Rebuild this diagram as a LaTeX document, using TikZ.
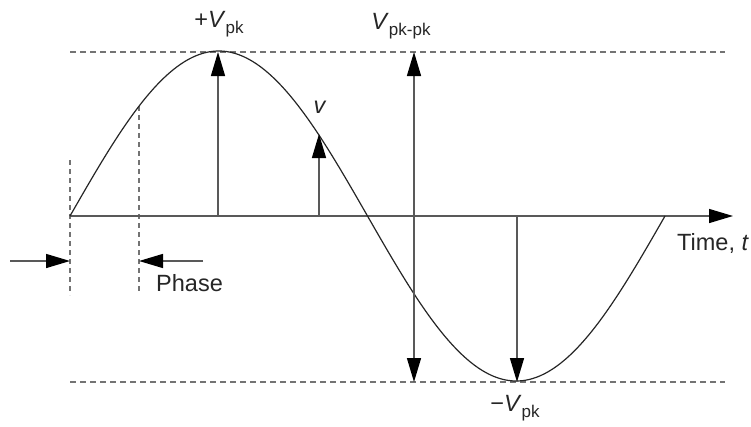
\documentclass[tikz,border=0pt]{standalone}
\usepackage{fontspec}
\setmainfont{Liberation Sans}
\usetikzlibrary{arrows.meta}
\newcommand\sbx[1]{\raisebox{-0.28em}{\fontsize{17}{17}\selectfont #1}}
\begin{document}
\begin{tikzpicture}[x=1pt,y=-1pt,
  font=\fontsize{23.5}{26}\selectfont,
  axisline/.style={line width=1.4pt, draw=black!65},
  tipped/.style={-{Triangle[length=24pt,width=14pt,color=black]}},
  guide/.style={draw=black!55, line width=1.1pt, dash pattern=on 6pt off 4pt},
  wave/.style={draw=black!85, line width=1.2pt},
  lbl/.style={inner sep=0pt, text=black!85}
]
\useasboundingbox (0,0) rectangle (751,426);
% coordinates
\coordinate (O) at (70,216);
\coordinate (Tend) at (733,216);
\coordinate (TL) at (70,52);  \coordinate (TR) at (725,52);
\coordinate (BL) at (70,382); \coordinate (BR) at (725,382);
\coordinate (pkB) at (218,216); \coordinate (pkT) at (218,52);
\coordinate (vB) at (319,216); \coordinate (vT) at (319,134);
\coordinate (ppT) at (414,52); \coordinate (ppB) at (414,382);
\coordinate (mB) at (517,216); \coordinate (mT) at (517,382);
\coordinate (d1T) at (70,160); \coordinate (d1B) at (70,295);
\coordinate (d2T) at (139,106); \coordinate (d2B) at (139,292);
\coordinate (a1S) at (10,261); \coordinate (a1E) at (70,261);
\coordinate (a2S) at (203,261); \coordinate (a2E) at (139,261);
% guides
\draw[guide] (TL) -- (TR);
\draw[guide] (BL) -- (BR);
\draw[guide, dash pattern=on 5pt off 4pt] (d1T) -- (d1B);
\draw[guide, dash pattern=on 5pt off 4pt] (d2T) -- (d2B);
% axis
\draw[axisline, tipped] (O) -- (Tend);
% wave
\draw[wave] plot[domain=70:665, samples=240] (\x, {216-165*sin((\x-70)/595*360)});
% arrows
\draw[axisline, tipped] (pkB) -- (pkT);
\draw[axisline, tipped] (vB) -- (vT);
\draw[axisline, {Triangle[length=24pt,width=14pt,color=black]}-{Triangle[length=24pt,width=14pt,color=black]}] (ppB) -- (ppT);
\draw[axisline, tipped] (mB) -- (mT);
\draw[axisline, tipped] (a1S) -- (a1E);
\draw[axisline, tipped] (a2S) -- (a2E);
% labels
\node[lbl] (Lpk) at (219,24) {+\textit{V}\sbx{pk}};
\node[lbl] (Lpp) at (401,26) {\textit{V}\sbx{pk-pk}};
\node[lbl] (Lv) at (320,107) {\textit{v}};
\node[lbl, anchor=west] (Lt) at (677,243) {Time, \textit{t}};
\node[lbl] (Lm) at (515,408) {−\textit{V}\sbx{pk}};
\node[lbl, anchor=west] (Lph) at (156,283) {Phase};
\end{tikzpicture}
\end{document}
